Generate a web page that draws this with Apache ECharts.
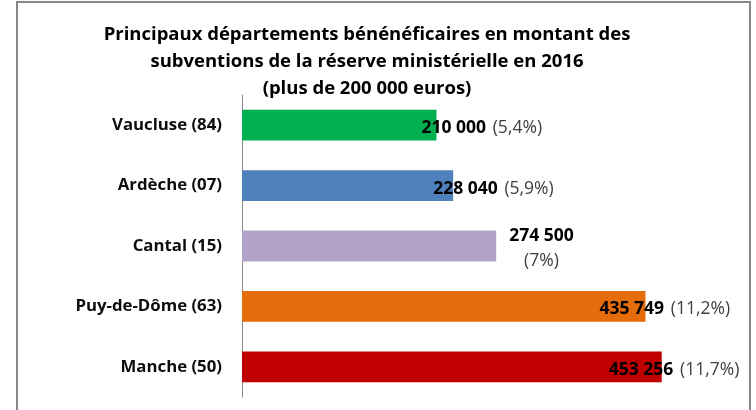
<!DOCTYPE html>
<html>
<head>
<meta charset="utf-8">
<script src="https://cdn.jsdelivr.net/npm/echarts@6/dist/echarts.min.js"></script>
<style>
  html, body { margin: 0; padding: 0; background: #fff; }
  #main { width: 756px; height: 410px; }
</style>
</head>
<body>
<div id="main"></div>
<script>
// departements (ordre du haut vers le bas)
const departements = ['Vaucluse (84)', 'Ardèche (07)', 'Cantal (15)', 'Puy-de-Dôme (63)', 'Manche (50)'];
const montants = [210000, 228040, 274500, 435749, 453256];
const parts = ['5,4%', '5,9%', '7%', '11,2%', '11,7%'];

const couleurs = ['#00B050', '#4F81BD', '#B3A2C7', '#E46C0A', '#C00000'];
// decalage des etiquettes (deplacees a la main dans l'original)
const decalages = [-15, -20, 13, -46, -53];

const fontFam = '"Open Sans", Lato, sans-serif';

function fmt(n) {
    return String(n).replace(/\B(?=(\d{3})+(?!\d))/g, ' ');
}

const myChart = echarts.init(document.getElementById('main'));

const option = {
    animation: false,
    title: {
        text: 'Principaux départements bénénéficaires en montant des\nsubventions de la réserve ministérielle en 2016\n(plus de 200 000 euros)',
        left: 367,
        top: 21,
        padding: 0,
        textAlign: 'center',
        textStyle: {
            fontFamily: fontFam,
            fontSize: 18.5,
            fontWeight: 'bold',
            color: '#000',
            lineHeight: 27
        }
    },
    graphic: [
        {
            type: 'rect',
            shape: { x: 17, y: 2, width: 733, height: 440 },
            style: { fill: null, stroke: '#888', lineWidth: 2 },
            silent: true
        }
    ],
    grid: {
        left: 242,
        top: 95,
        width: 463,
        height: 302,
        containLabel: false
    },
    xAxis: {
        type: 'value',
        min: 0,
        max: 500000,
        show: false
    },
    yAxis: {
        type: 'category',
        inverse: true,
        data: departements,
        axisLine: { show: true, lineStyle: { color: '#888', width: 1 } },
        axisTick: { show: false },
        axisLabel: {
            margin: 20,
            fontFamily: fontFam,
            fontSize: 16.8,
            fontWeight: 'bold',
            color: '#0d0d0d'
        }
    },
    series: [
        {
            type: 'bar',
            barWidth: '51%',
            data: montants.map(function (v, i) {
                const multi = i === 2;
                return {
                    value: v,
                    itemStyle: { color: couleurs[i] },
                    label: {
                        offset: [decalages[i], 3],
                        formatter: '{v|' + fmt(v) + '}' + (multi ? '\n' : '  ') + '{p|(' + parts[i] + ')}',
                        rich: {
                            v: { fontFamily: fontFam, fontSize: 17.5, fontWeight: 'bold', color: '#000', align: multi ? 'center' : 'left', lineHeight: 25 },
                            p: { fontFamily: fontFam, fontSize: 17.5, color: '#404040', align: multi ? 'center' : 'left', lineHeight: 25 }
                        }
                    }
                };
            }),
            label: {
                show: true,
                position: 'right',
                distance: 0
            }
        }
    ]
};

myChart.setOption(option);
</script>
</body>
</html>
